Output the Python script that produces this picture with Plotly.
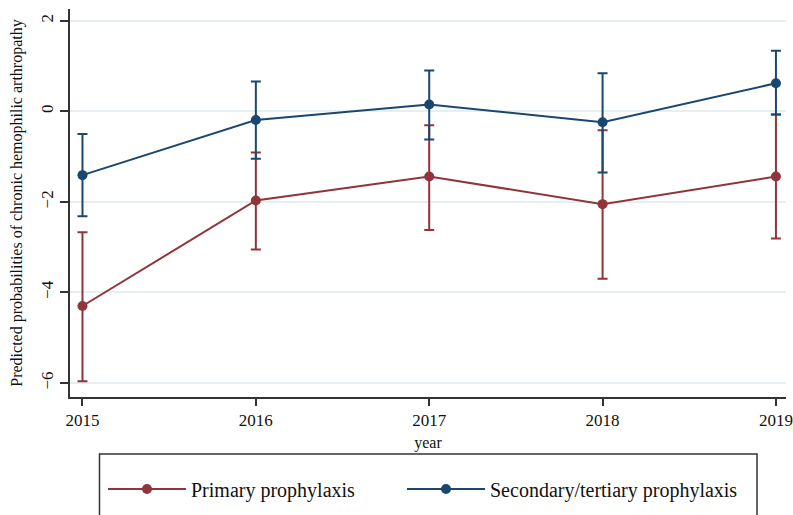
import plotly.graph_objects as go

years = [2015, 2016, 2017, 2018, 2019]
primary = [-4.30, -1.97, -1.44, -2.05, -1.44]
primary_lo = [-5.96, -3.05, -2.62, -3.70, -2.81]
primary_hi = [-2.67, -0.91, -0.31, -0.42, -0.07]
secondary = [-1.41, -0.19, 0.15, -0.24, 0.62]
secondary_lo = [-2.32, -1.05, -0.62, -1.35, -0.07]
secondary_hi = [-0.50, 0.66, 0.90, 0.84, 1.34]
y_ticks = [-6, -4, -2, 0, 2]

RED = "#90353B"
BLUE = "#1A476F"
FONT = "Liberation Serif"

def trace(name, y, lo, hi, color, legend):
    return go.Scatter(
        x=years, y=y, name=name, mode="lines+markers", legend=legend,
        line=dict(color=color, width=2),
        marker=dict(color=color, size=10),
        error_y=dict(type="data", symmetric=False,
                     array=[h - v for h, v in zip(hi, y)],
                     arrayminus=[v - l for v, l in zip(y, lo)],
                     color=color, thickness=2, width=5),
    )

fig = go.Figure()
fig.add_trace(trace("Primary prophylaxis", primary, primary_lo, primary_hi, RED, "legend"))
fig.add_trace(trace("Secondary/tertiary prophylaxis", secondary, secondary_lo, secondary_hi, BLUE, "legend2"))

W, H = 793, 515
ML, MT, MR, MB = 70, 9, 7, 118
PW, PH = W - ML - MR, H - MT - MB

def legend_at(px):
    return dict(orientation="h", x=(px - 70) / PW, xanchor="left",
                y=-(489 - 397) / PH, yanchor="middle",
                font=dict(size=20, family=FONT, color="#111"),
                itemwidth=78,
                bgcolor="rgba(0,0,0,0)", borderwidth=0)

fig.update_layout(
    width=W, height=H,
    margin=dict(l=ML, r=MR, t=MT, b=MB, autoexpand=False),
    paper_bgcolor="white", plot_bgcolor="white",
    font=dict(family=FONT, color="#111"),
    showlegend=True,
    legend=legend_at(103),
    legend2=legend_at(402),
    shapes=[dict(type="rect", xref="paper", yref="paper",
                 x0=(99.5 - 70) / PW, x1=(757 - 70) / PW,
                 y0=-0.36, y1=-(454 - 397) / PH,
                 line=dict(color="#333", width=1.5), fillcolor="rgba(0,0,0,0)", layer="below")],
)
fig.update_xaxes(
    range=[2014.928, 2019.058], tickvals=years, ticktext=[str(y) for y in years],
    automargin=False,
    showgrid=False, zeroline=False, showline=True, linecolor="#333", linewidth=1.5,
    ticks="outside", ticklen=7, tickcolor="#333", tickwidth=1.5,
    tickfont=dict(size=17, family=FONT, color="#111"),
    title=dict(text="year", font=dict(size=16, family=FONT, color="#111"), standoff=8),
)
fig.update_yaxes(
    range=[-6.31, 2.26], tickvals=y_ticks, ticktext=[str(t).replace("-", "\u2212") for t in y_ticks],
    tickangle=-90, automargin=False,
    showgrid=True, gridcolor="#e6eff2", gridwidth=1.5, zeroline=False,
    showline=True, linecolor="#333", linewidth=1.5,
    ticks="outside", ticklen=8, tickcolor="#333", tickwidth=1.5,
    tickfont=dict(size=17, family=FONT, color="#111"),
    title=dict(text="Predicted probabilities of chronic hemophilic arthropathy",
               font=dict(size=16, family=FONT, color="#111"), standoff=12),
)

fig.write_html(
    "out.html",
    config={"displayModeBar": False},
    post_script="document.body.style.margin='0';document.body.style.overflow='hidden';",
)
